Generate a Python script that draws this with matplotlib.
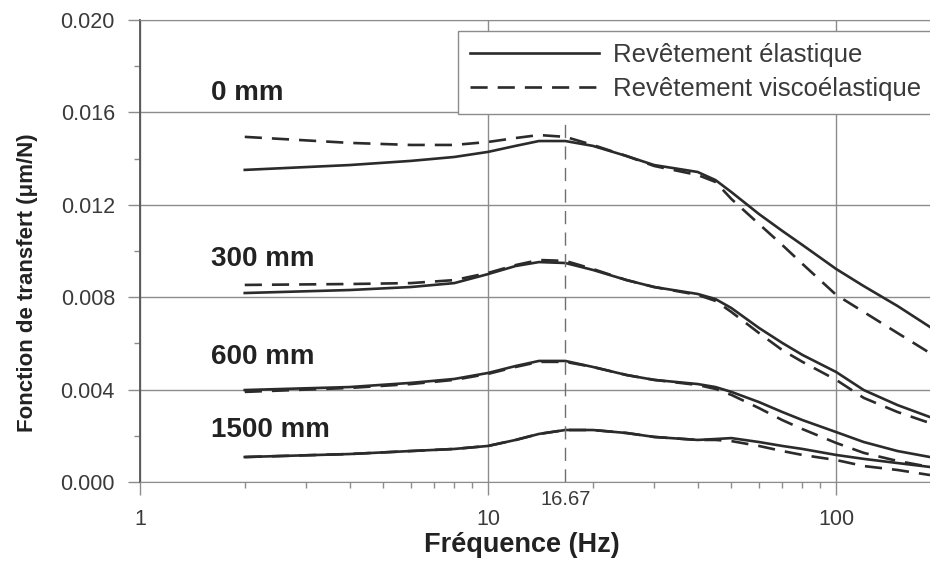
import matplotlib

matplotlib.use("Agg")
import matplotlib.pyplot as plt
from matplotlib.axes import Axes
from matplotlib.ticker import FixedLocator, FormatStrFormatter, LogLocator, NullFormatter

plt.rcParams["font.family"] = ["Liberation Sans", "DejaVu Sans"]

# frequencies (Hz) shared by every curve
freq = [2, 4, 6, 8, 10, 12, 14, 16.67, 20, 25, 30, 40, 45, 50, 60, 70, 80, 100, 120, 150, 186]

# transfer function (um/N), elastic coating
elastic_0 = [0.01351, 0.01372, 0.0139, 0.01407, 0.01429, 0.01455, 0.01476, 0.01476, 0.01455, 0.01411,
             0.01372, 0.01342, 0.01307, 0.01255, 0.0116, 0.01087, 0.01026, 0.00922, 0.00848, 0.00762, 0.00671]
elastic_300 = [0.00818, 0.00831, 0.00844, 0.00861, 0.009, 0.00935, 0.00952, 0.00948, 0.00918, 0.00874,
               0.00844, 0.00814, 0.00792, 0.00753, 0.00667, 0.00602, 0.0055, 0.00476, 0.00398, 0.00333, 0.00281]
elastic_600 = [0.00398, 0.00411, 0.00429, 0.00446, 0.00472, 0.00502, 0.00524, 0.00524, 0.00498, 0.00463,
               0.00442, 0.00424, 0.00411, 0.0039, 0.00346, 0.00303, 0.00268, 0.00216, 0.00173, 0.00134, 0.00108]
elastic_1500 = [0.00108, 0.00121, 0.00134, 0.00143, 0.00156, 0.00182, 0.00208, 0.00225, 0.00225, 0.00212,
                0.00195, 0.00182, 0.00186, 0.0019, 0.00173, 0.00156, 0.00143, 0.00117, 0.001, 0.00082, 0.00065]

# transfer function (um/N), viscoelastic coating
visco_0 = [0.01494, 0.01468, 0.01459, 0.01459, 0.01472, 0.01489, 0.01502, 0.01494, 0.01459, 0.01411,
           0.01368, 0.01329, 0.01299, 0.01225, 0.01117, 0.01026, 0.00944, 0.0081, 0.00736, 0.00645, 0.00558]
visco_300 = [0.00853, 0.00857, 0.00861, 0.00874, 0.00905, 0.00939, 0.00961, 0.00957, 0.00922, 0.00874,
             0.00844, 0.0081, 0.00784, 0.00736, 0.00645, 0.00571, 0.0052, 0.00442, 0.00364, 0.00303, 0.00255]
visco_600 = [0.0039, 0.00407, 0.00424, 0.00442, 0.00468, 0.00498, 0.0052, 0.0052, 0.00498, 0.00463,
             0.00442, 0.0042, 0.00403, 0.00377, 0.0032, 0.00268, 0.00229, 0.00169, 0.00126, 0.00091, 0.00065]
visco_1500 = [0.00108, 0.00121, 0.00134, 0.00143, 0.00156, 0.00182, 0.00208, 0.00225, 0.00225, 0.00212,
              0.00195, 0.00182, 0.00182, 0.00177, 0.00156, 0.00134, 0.00117, 0.00095, 0.00069, 0.00052, 0.0003]

distance_labels = ["0 mm", "300 mm", "600 mm", "1500 mm"]
distance_label_y = [0.01684, 0.00965, 0.00541, 0.00225]
distance_label_x = 1.6

peak_freq = 16.67
peak_line_top = 0.0155

y_ticks = [0.0, 0.004, 0.008, 0.012, 0.016, 0.020]
x_ticks = [1, 10, 100]
x_tick_labels = ["1", "10", "100"]

CURVE = "#2b2b2b"
GRID = "#8c8c8c"
TEXT = "#3a3a3a"


def style_axes(ax: Axes) -> None:
    ax.set_xscale("log")
    ax.set_xlim(1, 186)
    ax.set_ylim(0, 0.020)

    ax.xaxis.set_major_locator(FixedLocator(x_ticks))
    ax.set_xticklabels(x_tick_labels)
    ax.xaxis.set_minor_locator(LogLocator(base=10, subs=range(2, 10)))
    ax.xaxis.set_minor_formatter(NullFormatter())
    ax.set_yticks(y_ticks)
    ax.set_yticks([0.002, 0.006, 0.010, 0.014, 0.018], minor=True)
    ax.yaxis.set_major_formatter(FormatStrFormatter("%.3f"))

    ax.tick_params(which="major", length=9, width=1, color=GRID,
                   labelsize=15.5, labelcolor=TEXT)
    ax.tick_params(axis="y", which="major", pad=9)
    ax.tick_params(axis="x", which="major", pad=10.5)
    ax.tick_params(which="minor", length=4, width=1, color=GRID)

    ax.grid(which="major", color=GRID, linewidth=1)
    ax.set_axisbelow(True)
    ax.spines["right"].set_visible(False)
    ax.spines["top"].set_color(GRID)
    ax.spines["bottom"].set_color(GRID)
    ax.spines["left"].set_color("#555555")
    ax.spines["left"].set_linewidth(1.3)

    ax.set_xlabel("Fréquence (Hz)", fontsize=19.5, fontweight="bold", color="#222222")
    ax.xaxis.label.set_va("center")
    ax.xaxis.set_label_coords(0.4835, -0.136)
    ax.set_ylabel("Fonction de transfert (μm/N)", fontsize=16, fontweight="bold", color="#222222")
    ax.yaxis.label.set_va("center")
    ax.yaxis.set_label_coords(-0.1418, 0.431)


fig = plt.figure(figsize=(9.3, 5.63), dpi=100)
ax = fig.add_axes([0.1505, 0.1439, 0.8495, 0.8206])
style_axes(ax)

elastic = [elastic_0, elastic_300, elastic_600, elastic_1500]
visco = [visco_0, visco_300, visco_600, visco_1500]
for i, (el, vi) in enumerate(zip(elastic, visco)):
    ax.plot(freq, el, color=CURVE, linewidth=1.9,
            label="Revêtement élastique" if i == 0 else None)
    ax.plot(freq, vi, color=CURVE, linewidth=1.9, dashes=(6.5, 3.8),
            label="Revêtement viscoélastique" if i == 0 else None)

for label, y in zip(distance_labels, distance_label_y):
    ax.text(distance_label_x, y, label, fontsize=20, fontweight="bold",
            color="#222222", ha="left", va="center")

ax.vlines(peak_freq, 0, peak_line_top, color="#6f6f6f", linewidth=1, linestyles=(0, (9.5, 6)))
ax.annotate("16.67", xy=(peak_freq, 0), xycoords=("data", "axes fraction"),
            xytext=(0, -5.5), textcoords="offset points", ha="center", va="top",
            fontsize=14.5, color=TEXT)

leg = ax.legend(loc="upper left", bbox_to_anchor=(0.4025, 0.976), borderaxespad=0,
                fontsize=18.5, handlelength=5.0, handletextpad=0.55, labelspacing=0.4,
                borderpad=0.47, fancybox=False, framealpha=1)
leg.get_frame().set_edgecolor(GRID)
leg.get_frame().set_linewidth(1)
for t in leg.get_texts():
    t.set_color(TEXT)

fig.savefig("out.png", dpi=100)
